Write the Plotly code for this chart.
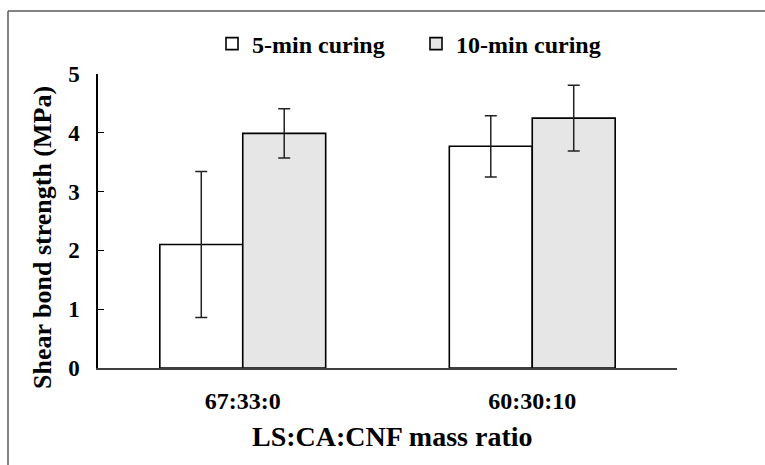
import plotly.graph_objects as go

categories = ["67:33:0", "60:30:10"]
series_names = ["5-min curing", "10-min curing"]
values_5min = [2.10, 3.77]
errors_5min = [1.24, 0.52]
values_10min = [3.99, 4.25]
errors_10min = [0.42, 0.56]
y_ticks = [0, 1, 2, 3, 4, 5]

FONT = "Liberation Serif"

fig = go.Figure()
fig.add_trace(go.Bar(
    x=categories, y=values_5min, name=f"<b>{series_names[0]}</b>",
    marker=dict(color="white", line=dict(color="black", width=1.6)),
    error_y=dict(type="data", array=errors_5min, color="#222222", thickness=1.5, width=6),
))
fig.add_trace(go.Bar(
    x=categories, y=values_10min, name=f"<b>{series_names[1]}</b>",
    marker=dict(color="#e6e6e6", line=dict(color="black", width=1.6)),
    error_y=dict(type="data", array=errors_10min, color="#222222", thickness=1.5, width=6),
))

W, H = 765, 465
L, R, T, B = 98, 88, 74, 97
pw, ph = W - L - R, H - T - B

def px(x):
    return (x - L) / pw

def py(y):
    return (H - B - y) / ph

fig.update_layout(
    width=W, height=H,
    margin=dict(l=L, r=R, t=T, b=B),
    paper_bgcolor="white", plot_bgcolor="white",
    barmode="group", bargap=0.427, bargroupgap=0,
    font=dict(family=FONT, size=22, color="black"),
    showlegend=True,
    legend=dict(orientation="h", x=px(212), xanchor="left", y=py(44), yanchor="middle",
                font=dict(family=FONT, size=24, color="black"),
                traceorder="normal", itemwidth=30, entrywidth=159, entrywidthmode="pixels",
                bgcolor="rgba(0,0,0,0)"),
    xaxis=dict(showline=True, linecolor="#404040", linewidth=1.5, ticks="",
               tickvals=categories, ticktext=[f"<b>{c}</b>" for c in categories],
               tickfont=dict(family=FONT, size=24, color="black"),
               ticklabelstandoff=10, showgrid=False, zeroline=False),
    yaxis=dict(range=[0, 5], tickvals=y_ticks, ticktext=[f"<b>{v}</b>" for v in y_ticks],
               showline=True, linecolor="black", linewidth=1.5,
               ticks="inside", ticklen=6, tickcolor="black", tickwidth=1.2,
               tickfont=dict(family=FONT, size=23, color="black"),
               ticklabelstandoff=12, showgrid=False, zeroline=False),
    annotations=[
        dict(text="<b>Shear bond strength (MPa)</b>", textangle=-90, xref="paper", yref="paper",
             x=px(42), y=py(238), xanchor="center", yanchor="middle", showarrow=False,
             font=dict(family=FONT, size=26, color="black")),
        dict(text="<b>LS:CA:CNF mass ratio</b>", xref="paper", yref="paper",
             x=px(392), y=py(436), xanchor="center", yanchor="middle", showarrow=False,
             font=dict(family=FONT, size=28, color="black")),
    ],
    shapes=[
        dict(type="line", xref="paper", yref="paper", x0=px(8), x1=px(766), y0=py(11), y1=py(11),
             line=dict(color="#595959", width=1.5)),
        dict(type="line", xref="paper", yref="paper", x0=px(8), x1=px(8), y0=py(11), y1=py(466),
             line=dict(color="#595959", width=1.5)),
    ],
)

fig.write_html("out.html")
